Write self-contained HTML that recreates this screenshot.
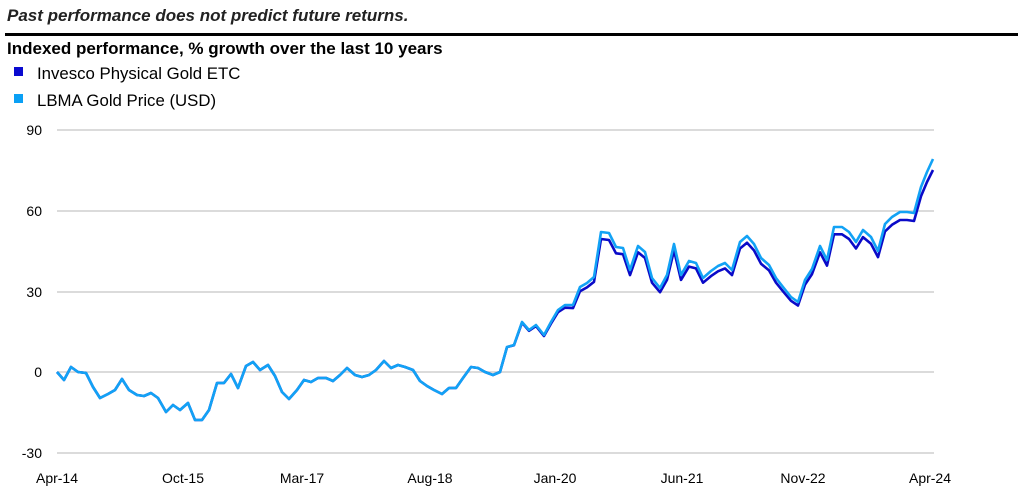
<!DOCTYPE html>
<html><head><meta charset="utf-8"><style>
body{margin:0;background:#fff;width:1018px;height:493px;overflow:hidden;font-family:"Liberation Sans",sans-serif}
</style></head><body>
<svg width="1018" height="493" xmlns="http://www.w3.org/2000/svg" font-family="Liberation Sans, sans-serif">
<text x="7" y="21" font-size="17" font-weight="bold" font-style="italic" fill="#222">Past performance does not predict future returns.</text>
<rect x="5" y="33" width="1013" height="3" fill="#000"/>
<text x="7" y="54" font-size="17" font-weight="bold" fill="#000">Indexed performance, % growth over the last 10 years</text>
<rect x="14" y="67" width="9" height="9" fill="#0a0ad0"/>
<text x="37" y="79" font-size="16.8" fill="#000">Invesco Physical Gold ETC</text>
<rect x="14" y="94" width="9" height="9" fill="#0aa0f5"/>
<text x="37" y="106" font-size="16.8" fill="#000">LBMA Gold Price (USD)</text>
<g stroke="#cfcfcf" stroke-width="1.5">
<line x1="57" y1="130" x2="934" y2="130"/><line x1="57" y1="211" x2="934" y2="211"/><line x1="57" y1="292" x2="934" y2="292"/><line x1="57" y1="372" x2="934" y2="372"/><line x1="57" y1="453" x2="934" y2="453"/>
</g>
<g font-size="14" fill="#000" text-anchor="end">
<text x="42" y="135">90</text><text x="42" y="216">60</text><text x="42" y="297">30</text><text x="42" y="377">0</text><text x="42" y="458">-30</text>
</g>
<g font-size="14" fill="#000" text-anchor="middle">
<text x="57" y="483">Apr-14</text><text x="183" y="483">Oct-15</text><text x="302" y="483">Mar-17</text><text x="430" y="483">Aug-18</text><text x="555" y="483">Jan-20</text><text x="682" y="483">Jun-21</text><text x="803" y="483">Nov-22</text><text x="930" y="483">Apr-24</text>
</g>
<polyline id="d" fill="none" stroke="#0a0ac8" stroke-width="2.6" stroke-linejoin="round"/>
<polyline id="l" fill="none" stroke="#12a2f5" stroke-width="2.6" stroke-linejoin="round"/>
<script>
var p=[[57,372],[64,380],[71,367],[78,372],[86,373],[93,387],[100,398],[108,394],[115,390],[122,379],[129,390],[137,395],[144,396],[151,393],[158,398],[166,412],[173,405],[180,410],[188,403],[195,420],[202,420],[209,410],[217,383],[224,383],[231,374],[238,388],[246,366],[253,362],[260,370],[268,365],[275,376],[282,392],[289,399],[297,390],[304,380],[311,382],[318,378],[326,378],[333,381],[340,375],[347,368],[355,375],[362,377],[369,375],[376,370],[384,361],[391,368],[398,365],[405,367],[413,370],[420,381],[427,386],[434,390],[442,394],[449,388],[456,388],[463,378],[471,367],[478,368],[485,372],[493,375],[500,372],[507,347],[514,345],[522,322],[529,330],[536,325],[544,335],[551,322],[558,310],[565,305],[573,305],[580,287],[587,283],[594,277],[601,232],[609,233],[616,247],[623,248],[630,270],[638,246],[645,252],[652,278],[660,288],[667,275],[674,244],[681,275],[689,261],[696,263],[703,278],[711,271],[718,266],[725,263],[732,270],[740,242],[747,236],[754,244],[761,258],[769,265],[776,278],[783,287],[791,297],[798,302],[805,280],[812,269],[820,246],[827,260],[834,227],[842,227],[849,232],[856,242],[863,230],[871,237],[878,251],[885,224],[892,217],[900,212],[907,212],[914,213],[921,187],[927,172],[933,159]];
var ls=p.map(function(a){return a.join(',')}).join(' ');
var ds=p.map(function(a){var y=a[1];if(a[0]>500){var f=Math.min(1,(a[0]-500)/80);y=372-(372-y)*(1-0.05*f);}if(a[0]==933)y=170;return a[0]+','+y.toFixed(1)}).join(' ');
document.getElementById('l').setAttribute('points',ls);
document.getElementById('d').setAttribute('points',ds);
</script>
</svg>
</body></html>
